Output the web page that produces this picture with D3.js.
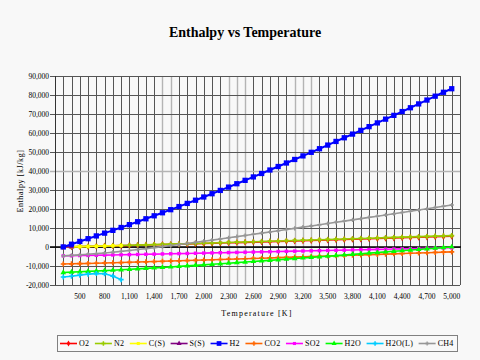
<!DOCTYPE html>
<html><head><meta charset="utf-8">
<script src="https://cdn.jsdelivr.net/npm/d3@7"></script>
<style>body{margin:0;background:#f8f8f8;} svg{display:block;}</style>
</head><body><svg id="c" width="480" height="360"></svg>
<script>
const temps = [300,400,500,600,700,800,900,1000,1100,1200,1300,1400,1500,1600,1700,1800,1900,2000,2100,2200,2300,2400,2500,2600,2700,2800,2900,3000,3100,3200,3300,3400,3500,3600,3700,3800,3900,4000,4100,4200,4300,4400,4500,4600,4700,4800,4900,5000];
const O2 = [2,95,190,289,391,495,601,709,819,930,1042,1155,1269,1383,1499,1615,1732,1849,1968,2087,2206,2327,2448,2570,2692,2815,2939,3063,3188,3313,3439,3566,3693,3820,3948,4076,4205,4335,4464,4594,4725,4855,4987,5118,5250,5383,5515,5648];
const N2 = [2,106,211,317,426,537,651,766,884,1003,1125,1247,1371,1496,1622,1748,1876,2004,2133,2262,2392,2522,2652,2783,2914,3046,3178,3310,3442,3575,3707,3840,3973,4107,4240,4374,4508,4642,4776,4910,5045,5179,5314,5449,5584,5719,5855,5990];
const CS = [1,85,182,290,405,526,652,781];
const SS = [2,60];
const H2 = [30,1470,2920,4370,5830,7290,8770,10260,11770,13300,14850,16420,18020,19640,21280,22940,24620,26320,28040,29780,31530,33300,35080,36880,38690,40520,42360,44210,46070,47950,49830,51730,53640,55560,57490,59430,61380,63340,65310,67290,69280,71280,73290,75310,77340,79380,81430,83300];
const CO2 = [-8940,-8850,-8753,-8648,-8538,-8423,-8304,-8182,-8057,-7930,-7801,-7671,-7539,-7406,-7272,-7137,-7001,-6865,-6727,-6589,-6451,-6312,-6172,-6032,-5891,-5750,-5609,-5468,-5326,-5184,-5041,-4898,-4755,-4612,-4468,-4324,-4179,-4035,-3890,-3745,-3599,-3454,-3308,-3162,-3016,-2870,-2723,-2577];
const SO2 = [-4632,-4567,-4496,-4422,-4344,-4263,-4180,-4096,-4010,-3924,-3836,-3748,-3659,-3570,-3480,-3390,-3300,-3208,-3118,-3026,-2935,-2843,-2751,-2659,-2567,-2475,-2382,-2290,-2197,-2104,-2011,-1918,-1825,-1732,-1638,-1545,-1451,-1358,-1264,-1170,-1076,-983,-889,-795,-701,-607,-513,-418];
const H2O = [-13420,-13232,-13039,-12840,-12636,-12424,-12206,-11980,-11747,-11508,-11262,-11009,-10751,-10487,-10217,-9943,-9665,-9383,-9097,-8808,-8515,-8220,-7922,-7621,-7319,-7014,-6707,-6399,-6089,-5777,-5464,-5149,-4833,-4515,-4197,-3877,-3556,-3235,-2912,-2588,-2264,-1939,-1613,-1286,-959,-631,-302,27];
const H2OL = [-15800,-15400,-14800,-14300,-14000,-14100,-15300,-17200];
const CH4 = [-4663,-4426,-4156,-3848,-3505,-3129,-2722,-2287,-1828,-1346,-846,-329,204,750,1308,1875,2452,3037,3629,4227,4831,5440,6053,6671,7292,7917,8545,9175,9806,10442,11078,11713,12355,12997,13639,14281,14929,15571,16219,16867,17515,18164,18818,19467,20121,20776,21424,22078];

const seriesNames = ["O2","N2","C(S)","S(S)","H2","CO2","SO2","H2O","H2O(L)","CH4"];
const seriesValues = [O2,N2,CS,SS,H2,CO2,SO2,H2O,H2OL,CH4];
const seriesColors = ["#ff0000","#99cc00","#ffff00","#800080","#0000ff","#ff6600","#ff00ff","#00ff00","#00ccff","#969696"];
const yTicks = [-20000,-10000,0,10000,20000,30000,40000,50000,60000,70000,80000,90000];
const xTickLabels = [500,800,1100,1400,1700,2000,2300,2600,2900,3200,3500,3800,4100,4400,4700,5000];

const font = "'Liberation Serif','Times New Roman',serif";
const svg = d3.select("#c");
svg.append("rect").attr("width",480).attr("height",360).attr("fill","#f8f8f8");

const L = 55, R = 460, T = 76, B = 285;
const x = d3.scaleLinear().domain([200,5100]).range([L,R]);
const y = d3.scaleLinear().domain([-20000,90000]).range([B,T]);

const faintX = [1500,1600,2300,2400,2500,3100,3200,3300];
const faintY = [40000];

// vertical gridlines
const gx = d3.range(200,5101,100);
svg.append("g").selectAll("line").data(gx).join("line")
  .attr("x1",d=>Math.round(x(d))+0.5).attr("x2",d=>Math.round(x(d))+0.5)
  .attr("y1",T).attr("y2",B)
  .attr("stroke",d=>faintX.includes(d)?"#b4b4b4":"#555")
  .attr("stroke-width",d=>faintX.includes(d)?1.4:1);
// horizontal gridlines
svg.append("g").selectAll("line").data(yTicks).join("line")
  .attr("x1",L-5).attr("x2",R)
  .attr("y1",d=>Math.round(y(d))+0.5).attr("y2",d=>Math.round(y(d))+0.5)
  .attr("stroke",d=>faintY.includes(d)?"#b4b4b4":"#555")
  .attr("stroke-width",d=>faintY.includes(d)?1.4:1);
// y axis line
svg.append("line").attr("x1",L+0.5).attr("x2",L+0.5).attr("y1",T).attr("y2",B).attr("stroke","#333");
// zero axis
svg.append("line").attr("x1",L-5).attr("x2",R+1).attr("y1",y(0)).attr("y2",y(0)).attr("stroke","#000").attr("stroke-width",1.6);

// y tick labels
svg.append("g").selectAll("text").data(yTicks).join("text")
  .attr("x",49).attr("y",d=>y(d)).attr("dy","0.35em").attr("text-anchor","end")
  .attr("font-family",font).attr("font-size",7.5).attr("fill","#000")
  .text(d=>d3.format(",")(d).replace("\u2212","-"));
// x tick labels
svg.append("g").selectAll("text").data(xTickLabels).join("text")
  .attr("x",d=>x(d)).attr("y",299).attr("text-anchor","middle")
  .attr("font-family",font).attr("font-size",7.5).attr("fill","#000")
  .text(d=>d3.format(",")(d));

// series
const symbols = [d3.symbolDiamond,d3.symbolCross,d3.symbolSquare,d3.symbolTriangle,d3.symbolSquare,d3.symbolCross,d3.symbolSquare,d3.symbolTriangle,d3.symbolCross,d3.symbolCross];
const sizes = [14,14,12,14,28,14,12,14,14,10];
const line = d3.line().x(d=>x(d[0])).y(d=>y(d[1]));
seriesValues.forEach((vals,i)=>{
  const pts = vals.map((v,j)=>[temps[j],v]);
  const g = svg.append("g");
  g.append("path").attr("d",line(pts)).attr("fill","none")
    .attr("stroke",seriesColors[i]).attr("stroke-width",i===4?2:1.6);
  g.selectAll("path.m").data(pts).join("path").attr("class","m")
    .attr("transform",d=>`translate(${x(d[0])},${y(d[1])})`)
    .attr("d",d3.symbol().type(symbols[i]).size(sizes[i]))
    .attr("fill",seriesColors[i]);
});

// title
svg.append("text").attr("x",245).attr("y",37).attr("text-anchor","middle")
  .attr("font-family",font).attr("font-weight","bold").attr("font-size",14)
  .text("Enthalpy vs Temperature");
// axis titles
svg.append("text").attr("x",257).attr("y",316).attr("text-anchor","middle")
  .attr("font-family",font).attr("font-size",8).attr("letter-spacing",1.2)
  .text("Temperature [K]");
svg.append("text").attr("transform","translate(23,181) rotate(-90)").attr("text-anchor","middle")
  .attr("font-family",font).attr("font-size",8).attr("letter-spacing",0.6)
  .text("Enthalpy [kJ/kg]");

// legend
svg.append("rect").attr("x",57.5).attr("y",335.5).attr("width",400).attr("height",16)
  .attr("fill","#f8f8f8").attr("stroke","#808080");
let cx = 60;
seriesNames.forEach((n,i)=>{
  const g = svg.append("g");
  g.append("line").attr("x1",cx).attr("x2",cx+17).attr("y1",343.5).attr("y2",343.5)
    .attr("stroke",seriesColors[i]).attr("stroke-width",1.6);
  g.append("path").attr("transform",`translate(${cx+8.5},343.5)`)
    .attr("d",d3.symbol().type(symbols[i]).size(sizes[i]*0.8)).attr("fill",seriesColors[i]);
  const t = g.append("text").attr("x",cx+19).attr("y",346.3)
    .attr("font-family",font).attr("font-size",8).attr("letter-spacing",0.3).text(n);
  cx += 19 + t.node().getComputedTextLength() + 5.5;
});
</script></body></html>
